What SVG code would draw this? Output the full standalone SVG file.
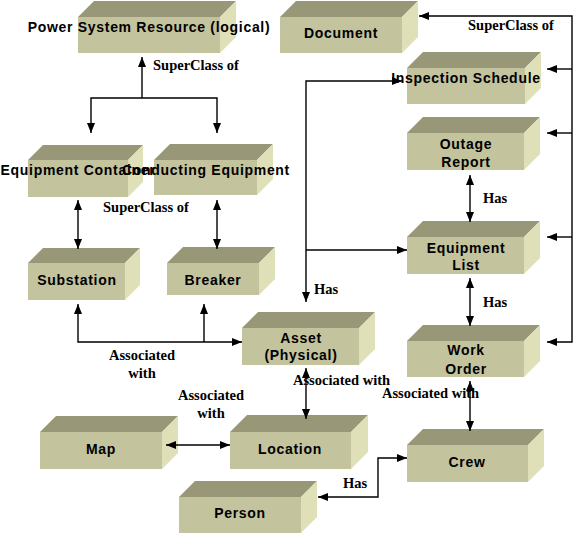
<svg xmlns="http://www.w3.org/2000/svg" width="576" height="535" viewBox="0 0 576 535">
<style>
.fr{fill:#C3C39E}
.tp{fill:#989878}
.sd{fill:#E0E0B8}
.nt{font-family:"Liberation Sans",Arial,sans-serif;font-weight:bold;font-size:14px;letter-spacing:0.7px;fill:#000;text-anchor:middle}
.lb{font-family:"Liberation Serif","Times New Roman",serif;font-weight:bold;font-size:14.5px;fill:#000}
.ln{fill:none;stroke:#000;stroke-width:1.4}
</style>
<defs>
<marker id="ah" viewBox="0 0 10 8" refX="10" refY="4" markerWidth="10" markerHeight="8" markerUnits="userSpaceOnUse" orient="auto-start-reverse">
<path d="M0,0 L10,4 L0,8 z" fill="#000"/>
</marker>
</defs>
<rect width="576" height="535" fill="#fff"/>

<g id="psr">
<polygon class="tp" points="78,17 94,1 236,1 220,17"/>
<polygon class="sd" points="220,17 236,1 236,37 220,53"/>
<rect class="fr" x="78" y="17" width="142" height="36"/>
<text class="nt" x="149" y="32">Power System Resource (logical)</text>
</g>
<g id="document">
<polygon class="tp" points="280,17 296,1 418,1 402,17"/>
<polygon class="sd" points="402,17 418,1 418,37 402,53"/>
<rect class="fr" x="280" y="17" width="122" height="36"/>
<text class="nt" x="341" y="38">Document</text>
</g>
<g id="inspection">
<polygon class="tp" points="407,68 423,52 541,52 525,68"/>
<polygon class="sd" points="525,68 541,52 541,88 525,104"/>
<rect class="fr" x="407" y="68" width="118" height="36"/>
<text class="nt" x="466" y="83">Inspection Schedule</text>
</g>
<g id="outage">
<polygon class="tp" points="407,133 423,117 540,117 524,133"/>
<polygon class="sd" points="524,133 540,117 540,154 524,170"/>
<rect class="fr" x="407" y="133" width="117" height="37"/>
<text class="nt" x="466" y="149">Outage</text>
<text class="nt" x="466" y="167">Report</text>
</g>
<g id="equiplist">
<polygon class="tp" points="407,237 423,221 540,221 524,237"/>
<polygon class="sd" points="524,237 540,221 540,258 524,274"/>
<rect class="fr" x="407" y="237" width="117" height="37"/>
<text class="nt" x="466" y="253">Equipment</text>
<text class="nt" x="466" y="270">List</text>
</g>
<g id="workorder">
<polygon class="tp" points="407,341 423,325 540,325 524,341"/>
<polygon class="sd" points="524,341 540,325 540,361 524,377"/>
<rect class="fr" x="407" y="341" width="117" height="36"/>
<text class="nt" x="466" y="355">Work</text>
<text class="nt" x="466" y="374">Order</text>
</g>
<g id="crew">
<polygon class="tp" points="407,445 423,429 544,429 528,445"/>
<polygon class="sd" points="528,445 544,429 544,466 528,482"/>
<rect class="fr" x="407" y="445" width="121" height="37"/>
<text class="nt" x="467" y="467">Crew</text>
</g>
<g id="asset">
<polygon class="tp" points="242,328 258,312 375,312 359,328"/>
<polygon class="sd" points="359,328 375,312 375,349 359,365"/>
<rect class="fr" x="242" y="328" width="117" height="37"/>
<text class="nt" x="301" y="343">Asset</text>
<text class="nt" x="301" y="360">(Physical)</text>
</g>
<g id="map">
<polygon class="tp" points="40,432 56,416 178,416 162,432"/>
<polygon class="sd" points="162,432 178,416 178,453 162,469"/>
<rect class="fr" x="40" y="432" width="122" height="37"/>
<text class="nt" x="101" y="454">Map</text>
</g>
<g id="location">
<polygon class="tp" points="230,432 247,415 368,415 351,432"/>
<polygon class="sd" points="351,432 368,415 368,452 351,469"/>
<rect class="fr" x="230" y="432" width="121" height="37"/>
<text class="nt" x="290" y="454">Location</text>
</g>
<g id="person">
<polygon class="tp" points="179,497 195,481 317,481 301,497"/>
<polygon class="sd" points="301,497 317,481 317,517 301,533"/>
<rect class="fr" x="179" y="497" width="122" height="36"/>
<text class="nt" x="240" y="518">Person</text>
</g>
<g id="container">
<polygon class="tp" points="28,160 43,145 143,145 128,160"/>
<polygon class="sd" points="128,160 143,145 143,182 128,197"/>
<rect class="fr" x="28" y="160" width="100" height="37"/>
<text class="nt" x="78" y="175">Equipment Container</text>
</g>
<g id="conducting">
<polygon class="tp" points="154,160 170,144 273,144 257,160"/>
<polygon class="sd" points="257,160 273,144 273,179 257,195"/>
<rect class="fr" x="154" y="160" width="103" height="35"/>
<text class="nt" x="206" y="175">Conducting Equipment</text>
</g>
<g id="substation">
<polygon class="tp" points="28,263 43,248 140,248 125,263"/>
<polygon class="sd" points="125,263 140,248 140,285 125,300"/>
<rect class="fr" x="28" y="263" width="97" height="37"/>
<text class="nt" x="77" y="285">Substation</text>
</g>
<g id="breaker">
<polygon class="tp" points="167,263 183,247 275,247 259,263"/>
<polygon class="sd" points="259,263 275,247 275,279 259,295"/>
<rect class="fr" x="167" y="263" width="92" height="32"/>
<text class="nt" x="213" y="285">Breaker</text>
</g>

<g id="connectors">
<path class="ln" d="M142,98 V57" marker-end="url(#ah)"/>
<path class="ln" d="M91,133 V98 H217 V133" marker-start="url(#ah)" marker-end="url(#ah)"/>
<path class="ln" d="M78,200 V249" marker-start="url(#ah)" marker-end="url(#ah)"/>
<path class="ln" d="M217,200 V249" marker-start="url(#ah)" marker-end="url(#ah)"/>
<path class="ln" d="M78,304 V342 H242" marker-start="url(#ah)" marker-end="url(#ah)"/>
<path class="ln" d="M204,342 V304" marker-end="url(#ah)"/>
<path class="ln" d="M419,16 H572 V342 H547" marker-start="url(#ah)" marker-end="url(#ah)"/>
<path class="ln" d="M572,69 H547" marker-end="url(#ah)"/>
<path class="ln" d="M572,133 H547" marker-end="url(#ah)"/>
<path class="ln" d="M572,237 H547" marker-end="url(#ah)"/>
<path class="ln" d="M402,81 H306 V302" marker-start="url(#ah)" marker-end="url(#ah)"/>
<path class="ln" d="M306,250 H407" marker-end="url(#ah)"/>
<path class="ln" d="M470,175 V222" marker-start="url(#ah)" marker-end="url(#ah)"/>
<path class="ln" d="M470,278 V326" marker-start="url(#ah)" marker-end="url(#ah)"/>
<path class="ln" d="M306,368 V419" marker-start="url(#ah)" marker-end="url(#ah)"/>
<path class="ln" d="M470,381 V431" marker-start="url(#ah)" marker-end="url(#ah)"/>
<path class="ln" d="M166,445 H230" marker-start="url(#ah)" marker-end="url(#ah)"/>
<path class="ln" d="M407,458 H378 V497 H318" marker-start="url(#ah)" marker-end="url(#ah)"/>
</g>

<g id="labels">
<text class="lb" x="153" y="70">SuperClass of</text>
<text class="lb" x="468" y="30">SuperClass of</text>
<text class="lb" x="103" y="212">SuperClass of</text>
<text class="lb" x="483" y="203">Has</text>
<text class="lb" x="483" y="307">Has</text>
<text class="lb" x="314" y="294">Has</text>
<text class="lb" x="343" y="488">Has</text>
<text class="lb" x="142" y="360" text-anchor="middle">Associated</text>
<text class="lb" x="142" y="378" text-anchor="middle">with</text>
<text class="lb" x="211" y="400" text-anchor="middle">Associated</text>
<text class="lb" x="211" y="418" text-anchor="middle">with</text>
<text class="lb" x="293" y="385">Associated with</text>
<text class="lb" x="382" y="398">Associated with</text>
</g>
</svg>
